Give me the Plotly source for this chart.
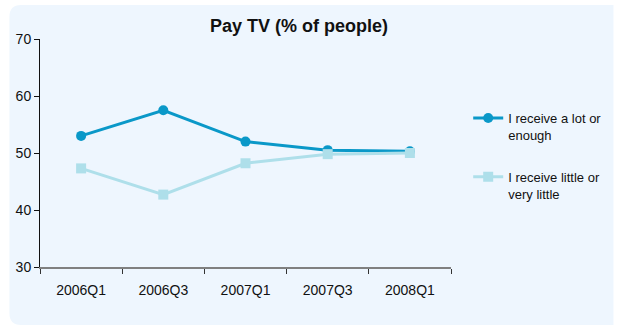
import plotly.graph_objects as go

categories = ["2006Q1", "2006Q3", "2007Q1", "2007Q3", "2008Q1"]
lot_enough = [53.0, 57.5, 52.0, 50.5, 50.3]
little = [47.3, 42.7, 48.2, 49.8, 50.0]
series_names = ["I receive a lot or<br>enough", "I receive little or<br>very little"]
y_ticks = [30, 40, 50, 60, 70]

W, H = 619, 327
L, R, T, B = 40, 149, 39, 60
pw, ph = W - L - R, H - T - B

def px(x):
    return (x - L) / pw

def py(y):
    return (H - B - y) / ph

fig = go.Figure()
fig.add_trace(go.Scatter(
    x=categories, y=lot_enough, name=series_names[0], mode="lines+markers",
    line=dict(color="#0A98C8", width=3),
    marker=dict(symbol="circle", size=10, color="#0A98C8"),
    legendgroup="a",
))
fig.add_trace(go.Scatter(
    x=categories, y=little, name=series_names[1], mode="lines+markers",
    line=dict(color="#AEDFEA", width=3),
    marker=dict(symbol="square", size=10, color="#AEDFEA"),
    legendgroup="b",
))

# rounded background panel
x0, y0, x1, y1, r = px(8), py(5), px(640), py(325), 12
rx, ry = r / pw, r / ph
path = (f"M {x0+rx},{y0} L {x1},{y0} L {x1},{y1} L {x0+rx},{y1} "
        f"Q {x0},{y1} {x0},{y1+ry} L {x0},{y0-ry} Q {x0},{y0} {x0+rx},{y0} Z")
fig.add_shape(type="path", path=path, xref="paper", yref="paper",
              fillcolor="#EEF6FE", line=dict(width=0), layer="below")

fig.update_layout(
    width=W, height=H,
    margin=dict(l=L, r=R, t=T, b=B, pad=0),
    paper_bgcolor="white",
    plot_bgcolor="rgba(0,0,0,0)",
    font=dict(family="Liberation Sans, Arial, sans-serif", size=14, color="#111111"),
    title=dict(text="<b>Pay TV (% of people)</b>", x=299 / W, xref="container",
               xanchor="center", y=1 - 26 / H, yref="container", yanchor="middle",
               font=dict(size=18, color="#111111")),
    showlegend=True,
    legend=dict(x=px(488), y=py(103), xref="paper", yref="paper",
                xanchor="left", yanchor="top", bgcolor="rgba(0,0,0,0)",
                font=dict(size=13, color="#111111"), valign="top",
                tracegroupgap=22, itemwidth=30),
)
fig.update_xaxes(
    type="category", range=[-0.5, 4.5], showgrid=False, zeroline=False,
    showline=True, linecolor="#808080", linewidth=1.5,
    ticks="outside", tickson="boundaries", ticklen=5, tickcolor="#333333",
    ticklabelstandoff=9, tickfont=dict(size=14),
)
fig.update_yaxes(
    range=[30, 70], tickvals=y_ticks, showgrid=False, zeroline=False,
    showline=True, linecolor="#111111", linewidth=1,
    ticks="outside", ticklen=5, tickcolor="#111111", tickfont=dict(size=14),
)

fig.write_html("out.html")
